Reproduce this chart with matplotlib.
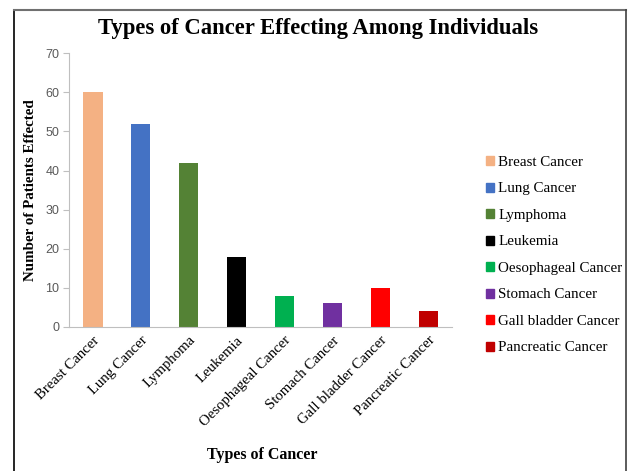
import matplotlib.pyplot as plt
from matplotlib.patches import Patch
from matplotlib.lines import Line2D

# Data
cancers = ["Breast Cancer", "Lung Cancer", "Lymphoma", "Leukemia",
           "Oesophageal Cancer", "Stomach Cancer", "Gall bladder Cancer",
           "Pancreatic Cancer"]
patients = [60, 52, 42, 18, 8, 6, 10, 4]
colors = ["#F4B183", "#4472C4", "#548235", "#000000",
          "#00B050", "#7030A0", "#FF0000", "#C00000"]

serif = "Liberation Serif"

fig = plt.figure(figsize=(6.28, 4.71), dpi=100)
ax = fig.add_axes([0.110, 0.306, 0.610, 0.581])

x = range(len(cancers))
ax.bar(x, patients, width=0.4, color=colors)

ax.set_xlim(-0.5, len(cancers) - 0.5)
ax.set_ylim(0, 70)
ax.set_yticks(range(0, 71, 10))
ax.set_xticks(list(x))
ax.set_xticklabels(cancers, rotation=45, ha="right", rotation_mode="anchor",
                   fontfamily=serif, fontsize=10.6)
ax.tick_params(axis="x", length=0, pad=5)
ax.tick_params(axis="y", length=4, color="#bfbfbf", labelsize=9,
               labelcolor="#595959", pad=3)
for lab in ax.get_yticklabels():
    lab.set_fontfamily("Liberation Sans")

for s in ["top", "right"]:
    ax.spines[s].set_visible(False)
ax.spines["left"].set_color("#bfbfbf")
ax.spines["bottom"].set_color("#bfbfbf")

ax.set_ylabel("Number of Patients Effected", fontfamily=serif,
              fontweight="bold", fontsize=10.8, labelpad=6)
fig.text(0.417, 0.034, "Types of Cancer", fontfamily=serif,
         fontweight="bold", fontsize=11.5, ha="center", va="center")
fig.text(0.507, 0.939, "Types of Cancer Effecting Among Individuals",
         fontfamily=serif, fontweight="bold", fontsize=16.3,
         ha="center", va="center")

handles = [Patch(color=c, label=n) for c, n in zip(colors, cancers)]
fig.legend(handles=handles, loc="upper left", bbox_to_anchor=(0.774, 0.669),
           frameon=False, prop={"family": serif, "size": 10.8},
           handlelength=0.55, handleheight=0.55, handletextpad=0.25,
           labelspacing=0.9, borderaxespad=0, borderpad=0)

# outer frame
fig.add_artist(Line2D([0.022, 0.022], [0, 0.979], color="black", lw=1.2))
fig.add_artist(Line2D([0.022, 0.997], [0.979, 0.979], color="#707070", lw=1.5))
fig.add_artist(Line2D([0.997, 0.997], [0, 0.979], color="#404040", lw=1.2))

fig.savefig("out.png", dpi=100)
